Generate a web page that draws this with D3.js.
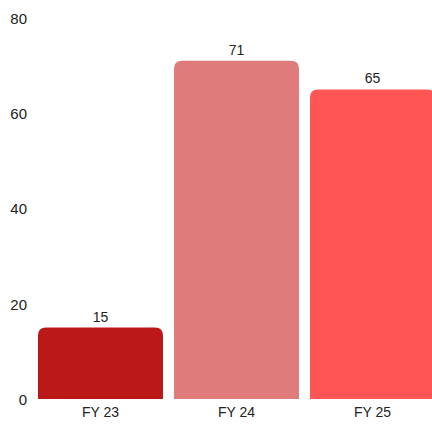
<!DOCTYPE html>
<html>
<head>
<meta charset="utf-8">
<script src="https://cdn.jsdelivr.net/npm/d3@7"></script>
<style>
html,body{margin:0;padding:0;background:#fff;}
svg{display:block;}
text{font-family:"Liberation Sans",Arial,sans-serif;}
</style>
</head>
<body>
<svg id="chart" width="432" height="424"></svg>
<script>
const categories = ["FY 23", "FY 24", "FY 25"];
const values = [15, 71, 65];
const colors = ["#bb1818", "#e07b7b", "#ff5555"];
const yTicks = [0, 20, 40, 60, 80];

const svg = d3.select("#chart");

const x = d3.scaleBand()
  .domain(categories)
  .range([32.5, 32.5 + 3 * 136])
  .paddingInner(0.081)
  .paddingOuter(0.0405);

const y = d3.scaleLinear().domain([0, 80]).range([399, 18]);

// y axis labels
const yAxis = d3.axisLeft(y).tickValues(yTicks).tickSize(0).tickPadding(0);
const gy = svg.append("g").attr("transform", "translate(27,0.5)").call(yAxis);
gy.select(".domain").remove();
gy.selectAll("text").attr("font-size", 15).attr("fill", "#222")
  .attr("font-family", "'Liberation Sans', Arial, sans-serif");

// bars with rounded top corners
const r = 8;
function barPath(x0, y0, w, h) {
  const rr = Math.min(r, h, w / 2);
  return `M${x0},${y0 + h}V${y0 + rr}Q${x0},${y0} ${x0 + rr},${y0}H${x0 + w - rr}Q${x0 + w},${y0} ${x0 + w},${y0 + rr}V${y0 + h}Z`;
}
svg.append("g").selectAll("path")
  .data(values)
  .join("path")
  .attr("d", (d, i) => barPath(x(categories[i]), y(d), x.bandwidth(), y(0) - y(d)))
  .attr("fill", (d, i) => colors[i]);

// value labels
svg.append("g").selectAll("text")
  .data(values)
  .join("text")
  .attr("x", (d, i) => x(categories[i]) + x.bandwidth() / 2)
  .attr("y", d => y(d) - 6)
  .attr("text-anchor", "middle")
  .attr("font-size", 14)
  .attr("fill", "#222")
  .text(d => d);

// x axis labels
const xAxis = d3.axisBottom(x).tickSize(0).tickPadding(0);
const gx = svg.append("g").attr("transform", "translate(0,407)").call(xAxis);
gx.select(".domain").remove();
gx.selectAll("text").attr("font-size", 14).attr("fill", "#222")
  .attr("font-family", "'Liberation Sans', Arial, sans-serif");
</script>
</body>
</html>
